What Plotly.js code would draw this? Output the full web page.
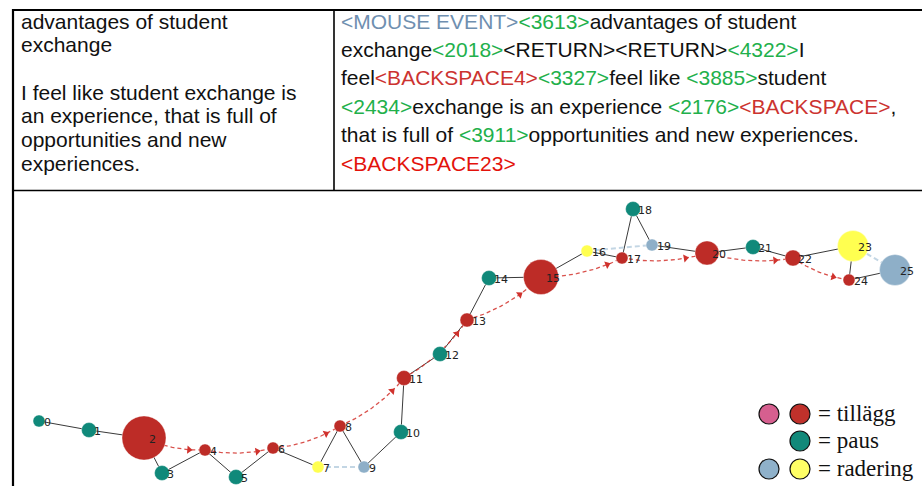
<!DOCTYPE html>
<html><head><meta charset="utf-8">
<script src="https://cdn.plot.ly/plotly-3.0.1.min.js"></script>
<style>html,body{margin:0;padding:0;background:#fff;}#chart{width:922px;height:486px;}</style>
</head><body><div id="chart"></div>
<script>
// ---------- table text ----------
const leftLines = ['advantages of student','exchange','','I feel like student exchange is','an experience, that is full of','opportunities and new','experiences.'];
// segments: [kind, text]; kind: t=plain, g=pause (green), b=mouse (blue-grey), r=backspace (red), R=final backspace
const rightLine1 = [['b','<MOUSE EVENT>'],['g','<3613>'],['t','advantages of student']];
const rightLine2 = [['t','exchange'],['g','<2018>'],['t','<RETURN><RETURN>'],['g','<4322>'],['t','I']];
const rightLine3 = [['t','feel'],['r','<BACKSPACE4>'],['g','<3327>'],['t','feel like '],['g','<3885>'],['t','student']];
const rightLine4 = [['g','<2434>'],['t','exchange is an experience '],['g','<2176>'],['r','<BACKSPACE>'],['t',',']];
const rightLine5 = [['t','that is full of '],['g','<3911>'],['t','opportunities and new experiences.']];
const rightLine6 = [['R','<BACKSPACE23>']];
const rightLines = [rightLine1,rightLine2,rightLine3,rightLine4,rightLine5,rightLine6];

// ---------- graph data ----------
const nodeIds  = [0,1,2,3,4,5,6,7,8,9,10,11,12,13,14,15,16,17,18,19,20,21,22,23,24,25];
const nodeX    = [39,89,144,162,205,236,273,318,340,364,401,404,440,467,489,541,587,622,633,652,707,753,793,853,849,895];
const nodeY    = [421,430,438,473,450,477,448,467,426,467,432,378,354,320,278,277,251,258,209,245,253,247,258,246,280,270];
const nodeSize = [12,15,44,15,12,15,12,12,12,12,15,15,15,14,15,35,12,12,15,12,24,15,16,31,12,31];
const nodeKind = ['P','P','T','P','T','P','T','Y','T','B','P','T','P','T','P','T','Y','T','P','B','T','P','T','Y','T','B'];
const edges = [[0,1],[1,2],[2,3],[3,4],[4,5],[5,6],[6,7],[7,8],[8,9],[9,10],[10,11],[11,12],[12,13],[13,14],[14,15],[15,16],[16,17],[17,18],[18,19],[19,20],[20,21],[21,22],[22,23],[23,24],[24,25]];
const deleteEdges = [[7,9],[16,19],[23,25]];
const arrowPath = [2,4,6,8,11,13,15,17,20,22,24];

// ---------- legend ----------
const legendLabels = ['= tillägg','= paus','= radering'];
const legendColors = [['#d65f8f','#c0312b'],[null,'#12897a'],['#8fb1ca','#ffff66']];

// ---------- styles ----------
const kindColor = {P:'#10897a', T:'#bd2c27', Y:'#ffff50', B:'#8eafc8'};
const txtColor = {t:'#111111', g:'#22b04b', b:'#6f8fb0', r:'#cc3330', R:'#e3120b'};
const esc = s => s.replace(/&/g,'&amp;').replace(/</g,'&lt;').replace(/>/g,'&gt;').replace(/ /g,'&nbsp;');

const traces = [];
// black edges
const ex=[], ey=[];
edges.forEach(([a,b])=>{ex.push(nodeX[a],nodeX[b],null); ey.push(nodeY[a],nodeY[b],null);});
traces.push({x:ex,y:ey,mode:'lines',line:{color:'#3a3a3a',width:1},hoverinfo:'skip'});
// deletion links
const dx_=[], dy_=[];
deleteEdges.forEach(([a,b])=>{dx_.push(nodeX[a],nodeX[b],null); dy_.push(nodeY[a],nodeY[b],null);});
traces.push({x:dx_,y:dy_,mode:'lines',line:{color:'#c3d6e4',width:2,dash:'5px,3px'},hoverinfo:'skip'});
// curved red arrows
const rad = 0.12;
const ax=[], ay=[], hx=[], hy=[], ha=[];
for (let i=0;i<arrowPath.length-1;i++){
  const a=arrowPath[i], b=arrowPath[i+1];
  const x0=nodeX[a], y0=nodeY[a], x1=nodeX[b], y1=nodeY[b];
  const ddx=x1-x0, ddy=y1-y0;
  const cx=(x0+x1)/2 - rad*ddy, cy=(y0+y1)/2 + rad*ddx;
  const P=t=>[(1-t)*(1-t)*x0+2*(1-t)*t*cx+t*t*x1,(1-t)*(1-t)*y0+2*(1-t)*t*cy+t*t*y1];
  const D=t=>[2*(1-t)*(cx-x0)+2*t*(x1-cx),2*(1-t)*(cy-y0)+2*t*(y1-cy)];
  for (let k=0;k<=40;k++){const p=P(k/40); ax.push(p[0]); ay.push(p[1]);}
  ax.push(null); ay.push(null);
  const want = nodeSize[b]/2 + 10;
  let best=0.7, bd=1e9;
  for (let k=0;k<=400;k++){const t=k/400; const p=P(t); const d=Math.abs(Math.hypot(p[0]-x1,p[1]-y1)-want); if(d<bd && t>0.3){bd=d;best=t;}}
  const p=P(best), d=D(best);
  hx.push(p[0]); hy.push(p[1]); ha.push(Math.atan2(d[0],-d[1])*180/Math.PI);
}
traces.push({x:ax,y:ay,mode:'lines',line:{color:'rgba(210,50,45,0.85)',width:1.3,dash:'4px,3px'},hoverinfo:'skip'});
traces.push({x:hx,y:hy,mode:'markers',marker:{symbol:'triangle-up',size:7,angle:ha,color:'#d0322d',line:{width:0}},hoverinfo:'skip'});
// nodes
traces.push({x:nodeX,y:nodeY,mode:'markers',marker:{size:nodeSize,color:nodeKind.map(k=>kindColor[k]),line:{width:0.6,color:'rgba(255,255,255,0.6)'},opacity:1},hoverinfo:'skip'});
// labels
traces.push({x:nodeX.map((v,i)=>v+5),y:nodeY.map(v=>v+2),mode:'text',text:nodeIds.map(String),textposition:'middle right',textfont:{family:'DejaVu Sans',size:11,color:'#222'},hoverinfo:'skip'});
// legend circles
const lgx=[], lgy=[], lgc=[];
const legX=[769,800], legY=[414,441,469];
legendColors.forEach((row,r)=>row.forEach((c,j)=>{if(c){lgx.push(legX[j]);lgy.push(legY[r]);lgc.push(c);}}));
traces.push({x:lgx,y:lgy,mode:'markers',marker:{size:20,color:lgc,line:{width:1.2,color:'#111'}},hoverinfo:'skip'});

const annotations = [];
leftLines.forEach((s,i)=>{ if(!s) return;
  annotations.push({x:20,y:21+i*23.7,xref:'x',yref:'y',text:esc(s),showarrow:false,xanchor:'left',yanchor:'middle',borderpad:0,
    font:{family:'Liberation Sans, Arial',size:21,color:'#111'}});
});
rightLines.forEach((segs,i)=>{
  const html = segs.map(([k,t])=>`<span style="color:${txtColor[k]}">${esc(t)}</span>`).join('');
  annotations.push({x:340,y:21+i*28.4,xref:'x',yref:'y',text:html,showarrow:false,xanchor:'left',yanchor:'middle',borderpad:0,
    font:{family:'Liberation Sans, Arial',size:21,color:'#111'}});
});
legendLabels.forEach((s,i)=>{
  annotations.push({x:817,y:legY[i]-1,xref:'x',yref:'y',text:s,showarrow:false,xanchor:'left',yanchor:'middle',borderpad:0,
    font:{family:'Liberation Serif, Times New Roman',size:23,color:'#111'}});
});

const L = (x0,y0,x1,y1,w)=>({type:'line',xref:'x',yref:'y',x0,y0,x1,y1,line:{color:'#000',width:w}});
const layout = {
  width:922,height:486,margin:{l:0,r:0,t:0,b:0},paper_bgcolor:'#fff',plot_bgcolor:'#fff',showlegend:false,
  xaxis:{range:[0,922],visible:false,fixedrange:true},
  yaxis:{range:[486,0],visible:false,fixedrange:true},
  shapes:[L(12,10,922,10,2),L(13,9,13,486,2.2),L(334,10,334,190,1.6),L(13,190.5,922,190.5,1.6)],
  annotations
};
Plotly.newPlot('chart',traces,layout,{staticPlot:true,displayModeBar:false});
</script></body></html>
